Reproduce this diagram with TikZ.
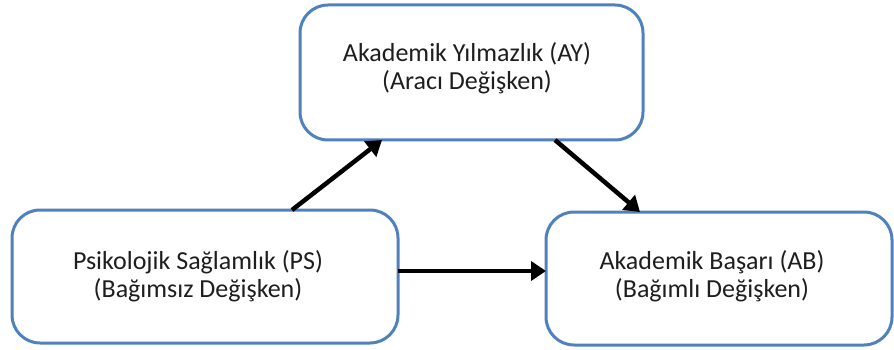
\documentclass[tikz,border=0pt]{standalone}
\usepackage{fontspec}
\setmainfont{Carlito}
\usetikzlibrary{arrows.meta}
\definecolor{boxblue}{RGB}{79,129,189}
\definecolor{txt}{RGB}{30,30,30}
\tikzset{
  varbox/.style={draw=boxblue, line width=3pt, rounded corners=28pt,
    outer sep=0pt, inner sep=0pt, fill=white},
  vartext/.style={align=center, text=txt, inner sep=0pt,
    font=\fontsize{26}{27.5}\selectfont},
  path/.style={draw=black, line width=4.5pt,
    -{Triangle[length=15pt,width=19pt]}}
}
\begin{document}
\begin{tikzpicture}[x=1pt,y=-1pt]
  \useasboundingbox (0,0) rectangle (894,350);
  % boxes
  \node[varbox, minimum width=343pt, minimum height=135pt] (ay) at (471.5,72.5) {};
  \node[varbox, minimum width=386pt, minimum height=133pt] (ps) at (205,276.5) {};
  \node[varbox, minimum width=346pt, minimum height=133pt] (ab) at (719,278.5) {};
  % labels
  \node[vartext] (ayt) at (467,68) {Akademik Yılmazlık (AY)\\(Aracı Değişken)};
  \node[vartext] (pst) at (198,276) {Psikolojik Sağlamlık (PS)\\(Bağımsız Değişken)};
  \node[vartext] (abt) at (712,276) {Akademik Başarı (AB)\\(Bağımlı Değişken)};
  % paths
  \draw[path] ([xshift=87pt]ps.north) -- ([xshift=-89.5pt]ay.south);
  \draw[path] ([xshift=83.5pt]ay.south) -- ([xshift=-79pt]ab.north);
  \draw[path] ([yshift=5.5pt]ps.east) -- ([yshift=5.5pt]ps.east -| ab.west);
\end{tikzpicture}
\end{document}
